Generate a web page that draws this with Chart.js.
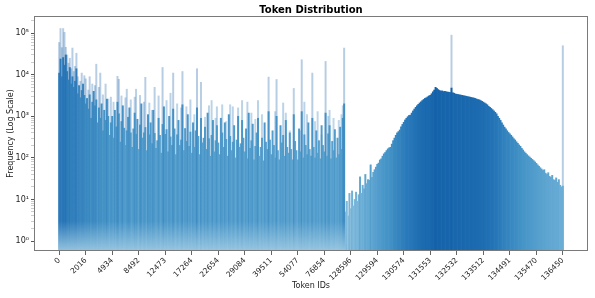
<!DOCTYPE html>
<html><head><meta charset="utf-8">
<script src="https://cdn.jsdelivr.net/npm/chart.js@4.4.1/dist/chart.umd.min.js"></script>
<style>html,body{margin:0;padding:0;background:#fff}canvas{display:block}</style>
</head><body>
<canvas id="c" width="595" height="298"></canvas>
<script>
// ---- data ----
const tickLabels = ['0','2016','4934','8492','12473','17264','22654','29084','39511','54077','76854','128596','129594','130574','131553','132532','133512','134491','135470','136450'];

// left (sparse token ids) region: dense body level per bar
const leftBody = [
  11000, 24000, 9000, 26000, 17000, 30000, 12000, 7500, 15000, 6000,
  9000, 5000, 7000, 14000, 3500, 5500, 2800, 4200, 6000, 3200,
  2000, 2700, 1500, 3300, 900, 2200, 4000, 1800, 2500, 700,
  1600, 900, 2000, 450, 1400, 800, 2600, 1000, 350, 700,
  1000, 300, 1400, 560, 2200, 1150, 240, 750, 1800, 520,
  200, 450, 950, 1600, 400, 180, 500, 1200, 370, 850,
  160, 620, 2000, 300, 400, 540, 150, 1100, 360, 700,
  220, 1400, 390, 170, 260, 900, 350, 130, 640, 1700,
  370, 480, 140, 1000, 320, 200, 1500, 500, 120, 360,
  800, 200, 270, 1900, 150, 510, 250, 1100, 190, 420,
  130, 700, 180, 450, 1600, 330, 120, 900, 230, 300,
  550, 160, 1200, 290, 110, 350, 800, 140, 260, 600,
  230, 120, 900, 400, 180, 700, 280, 110, 1100, 330,
  150, 240, 600, 100, 270, 1000, 180, 220, 800, 300,
  140, 500, 95, 1200, 170, 260, 650, 90, 190, 400,
  900, 110, 180, 300, 85, 700, 240, 160, 1300, 270,
  120, 450, 200, 100, 1000, 150, 90, 600, 230, 350,
  110, 800, 180, 130, 400, 160, 90, 1100, 250, 150,
  90, 500, 140, 1300, 100, 360, 200, 120, 700, 160,
  110, 900, 180, 100, 450, 130, 260, 95, 600, 200,
  140, 1200, 110, 380, 600, 95, 250, 150, 480, 100,
  300, 120, 550, 160, 900, 2000
];
// left region: sparse tall spikes (null = no spike at that bar)
const leftSpike = [
  60000, 130000, 45000, 130000, 105000, 46000, 30000, 19000, 25000, 14000,
  44000, 12000, 16000, 33000, 9000, null, 7000, 11000, null, 9500,
  8000, null, 4300, 9000, null, 6000, null, 5500, 18000, null,
  5000, 11000, null, 3300, null, 6000, null, 2600, null, 2900,
  null, 2200, null, null, 9200, 7800, null, 3100, null, null,
  2800, 4500, null, null, 2500, null, null, 2900, 4500, null,
  null, 3200, null, null, 2200, 8700, null, null, 2100, null,
  1400, null, 5000, null, null, 3100, null, null, 15000, null,
  null, 2400, null, null, 3600, null, 11000, null, null, 2000,
  null, null, 1600, 12000, null, null, 1700, null, null, 2500,
  null, null, 1100, null, 14000, null, null, 6600, null, null,
  950, null, null, 1800, null, 2400, null, null, 900, 1700,
  null, null, null, 1900, null, null, 750, null, null, 1900,
  null, 1700, null, null, null, 1600, null, null, 2400, null,
  null, null, 2200, null, null, 1200, null, null, 850, null,
  2400, null, null, 1100, null, null, null, null, 8800, null,
  null, null, null, 1300, 7700, null, null, null, null, 2100,
  null, 1200, null, null, 450, null, null, 4700, null, null,
  null, null, 450, 23000, null, 2200, null, 1100, null, null,
  null, 11000, null, 750, null, 1300, null, null, 360, null,
  null, 21000, null, 1000, 1400, null, null, 900, null, null,
  null, 800, null, 1100, 1800, 44000
];
// right (contiguous token ids) bell-shaped region
const bellFreq = [
  5, 9, 4, 14, 6, 16, 7, 10, 15, 9,
  13, 35, 14, 22, 18, 40, 24, 30, 29, 68,
  34, 45, 52, 60, 70, 75, 89, 95, 110, 125,
  135, 150, 165, 175, 180, 215, 260, 300, 350, 400,
  430, 470, 560, 640, 720, 820, 900, 980, 1050, 1070,
  1200, 1350, 1500, 1650, 1800, 1950, 2100, 2250, 2400, 2550,
  2700, 2800, 2950, 3100, 3200, 3500, 3900, 4300, 5000, 4700,
  4400, 4200, 4050, 4100, 3950, 4000, 3900, 3850, 3800, 3750,
  4800, 3700, 3600, 3450, 3400, 3350, 3300, 3250, 3200, 3150,
  3100, 3050, 3000, 2950, 2900, 2850, 2800, 2750, 2700, 2600,
  2550, 2500, 2400, 2300, 2200, 2100, 2000, 1900, 1750, 1650,
  1550, 1450, 1350, 1250, 1150, 1000, 900, 800, 700, 620,
  550, 500, 450, 410, 380, 350, 320, 290, 270, 245,
  225, 205, 190, 170, 155, 140, 130, 120, 112, 105,
  98, 92, 86, 80, 74, 68, 63, 58, 54, 50,
  52, 43, 40, 44, 36, 34, 38, 30, 29, 33,
  26, 30, 22, 20, 21
];
// isolated tall spikes inside the bell region (bar position, frequency)
const bellSpikePos = [296, 380];
const bellSpikeFreq = [90000, 50000];

// ---- styling helpers ----
const BLUES = [[247,251,255],[222,235,247],[198,219,239],[158,202,225],[107,174,214],[66,146,198],[33,113,181],[8,81,156],[8,48,107]];
function blues(t){ t=Math.max(0,Math.min(1,t)); const p=t*8; const i=Math.min(7,Math.floor(p)); const f=p-i; const a=BLUES[i], b=BLUES[i+1]; return [0,1,2].map(k=>Math.round(a[k]+(b[k]-a[k])*f)); }
function shade(v){ return Math.min(0.84, Math.max(0.38, 0.33+0.13*Math.log10(v))); }
function shadeLeft(v){ return Math.min(0.76, Math.max(0.45, 0.40+0.08*Math.log10(v))); }
function rgba(c,a){ return 'rgba('+c[0]+','+c[1]+','+c[2]+','+a+')'; }
const SUP = ['\u2070','\u00b9','\u00b2','\u00b3','\u2074','\u2075','\u2076'];

const nLeft = leftBody.length;
const N = nLeft + bellFreq.length;
const nTicks = tickLabels.length;
const step = (N - 1) / (nTicks - 1);

const bodyPts = leftBody.map((v,i)=>({x:i, y:v}));
const bellPts = bellFreq.map((v,j)=>({x:nLeft+j, y:v}));
const spikePts = leftSpike.map((v,i)=>({x:i, y:v})).filter(p=>p.y!==null)
  .concat(bellSpikePos.map((p,k)=>({x:p, y:bellSpikeFreq[k]})));

function bodyColor(ctx){
  const v = ctx.raw && ctx.raw.y;
  if (!v) return 'rgba(0,0,0,0)';
  const c = blues(shadeLeft(v));
  const chart = ctx.chart, ys = chart.scales && chart.scales.y;
  if (!chart.chartArea || !ys) return rgba(c,0.92);
  const yb = chart.chartArea.bottom, yt = ys.getPixelForValue(3);
  const g = chart.ctx.createLinearGradient(0, yb, 0, yt);
  g.addColorStop(0, rgba(blues(0.40),0.92));
  g.addColorStop(1, rgba(c,0.92));
  return g;
}

const framePlugin = {
  id: 'frame',
  afterDraw(chart){
    const {ctx, chartArea:a} = chart;
    ctx.save();
    ctx.strokeStyle = '#7a7a7a';
    ctx.lineWidth = 1;
    ctx.strokeRect(Math.round(a.left)+0.5, Math.round(a.top)+0.5, Math.round(a.right-a.left)-1, Math.round(a.bottom-a.top)-1);
    ctx.restore();
  }
};

const FONT = 'DejaVu Sans';

new Chart(document.getElementById('c'), {
  type: 'bar',
  data: {
    datasets: [
      { label:'body', data: bodyPts, backgroundColor: bodyColor, order: 1, grouped:false, barPercentage:1, categoryPercentage:1, borderWidth:0 },
      { label:'bell', data: bellPts, backgroundColor: ctx => rgba(blues(shade(ctx.raw ? ctx.raw.y : 1)),1), order: 1, grouped:false, barPercentage:1, categoryPercentage:1, borderWidth:0 },
      { label:'spikes', data: spikePts, backgroundColor: ctx => rgba(blues(shade(ctx.raw ? ctx.raw.y : 1)),0.3), order: 2, grouped:false, barPercentage:1, categoryPercentage:1, borderWidth:0 }
    ]
  },
  options: {
    responsive: false,
    devicePixelRatio: 1,
    animation: false,
    layout: { padding: { left: 0, right: 7, top: 0, bottom: 0 } },
    plugins: {
      legend: { display: false },
      tooltip: { enabled: false },
      title: { display: true, text: 'Token Distribution', fullSize: false, color: '#000',
               font: { family: FONT, size: 10, weight: 'bold' }, padding: { top: 4, bottom: 0 } }
    },
    scales: {
      x: {
        type: 'linear', offset: false,
        min: -0.05*(N-1), max: (N-1)*1.05,
        afterBuildTicks: s => { s.ticks = tickLabels.map((_,k)=>({value: k*step})); },
        afterFit: s => { s.height = 47; },
        ticks: { autoSkip: false, minRotation: 45, maxRotation: 45, padding: 1, color: '#222',
                 font: { family: FONT, size: 7.5 },
                 callback: v => tickLabels[Math.round(v/step)] },
        grid: { display: true, offset: false, drawOnChartArea: false, drawTicks: true, tickLength: 4, tickColor: '#666' },
        border: { display: false },
        title: { display: true, text: 'Token IDs', color: '#222', font: { family: FONT, size: 8 }, padding: { top: 0, bottom: 7 } }
      },
      y: {
        type: 'logarithmic',
        min: 0.575, max: 2.6e5,
        afterBuildTicks: s => {
          const t = [];
          for (let e = 0; e <= 5; e++) for (let m = 1; m <= 9; m++) { const v = m*Math.pow(10,e); if (v >= s.min && v <= s.max) t.push({value: v, major: m === 1}); }
          s.ticks = t;
        },
        afterFit: s => { s.width = 34; },
        ticks: { autoSkip: false, padding: 2, color: '#222', font: { family: FONT, size: 8 },
                 callback: v => { const e = Math.round(Math.log10(v)); return Math.abs(v - Math.pow(10,e)) < 1e-6*v ? '10' + SUP[e] : ''; } },
        grid: { display: true, drawOnChartArea: false, drawTicks: true, tickLength: 3,
                tickColor: c => (c.tick && c.tick.major) ? '#555' : '#aaa',
                tickWidth: c => (c.tick && c.tick.major) ? 1 : 0.6 },
        border: { display: false },
        title: { display: true, text: 'Frequency (Log Scale)', color: '#222', font: { family: FONT, size: 8 }, padding: { top: 6, bottom: 0 } }
      }
    }
  },
  plugins: [framePlugin]
});
</script>
</body></html>
